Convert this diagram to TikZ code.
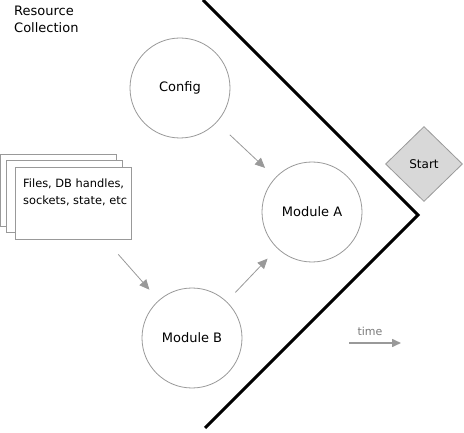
\documentclass[tikz,border=0pt]{standalone}
\usepackage{fontspec}
\setmainfont{DejaVu Sans}
\usetikzlibrary{shapes.geometric,arrows.meta}
\definecolor{edgegray}{HTML}{999999}
\definecolor{startgray}{HTML}{D8D8D8}
\begin{document}
\begin{tikzpicture}[x=1pt,y=1pt,
  stage/.style={circle,draw=edgegray,line width=0.8pt,minimum size=100pt,inner sep=0pt,font=\fontsize{13}{16}\selectfont},
  sheet/.style={rectangle,draw=edgegray,line width=0.8pt,fill=white,minimum width=116pt,minimum height=72pt,inner sep=0pt},
  flow/.style={draw=edgegray,line width=0.8pt,-{Triangle[length=10pt,width=9pt]}}]
\useasboundingbox (0,0) rectangle (464,-433);
   \node[anchor=north west,inner sep=0pt,align=left,font=\fontsize{13}{17}\selectfont] at (14,-6) (title) {Resource\\Collection};
   \coordinate (top) at (203,0);
   \coordinate (tip) at (418,-215);
   \coordinate (bottom) at (205,-428);
   \draw[line width=3pt,miter limit=4] (top) -- (tip) -- (bottom);
   \node[sheet] at (58.5,-190) (sheetback) {};
   \node[sheet] at (64.5,-196) (sheetmid) {};
   \node[sheet] at (73,-203) (items) {};
   \node[anchor=north west,inner sep=0pt,align=left,font=\fontsize{11.4}{17}\selectfont] at (23,-179) (itemstext) {Files, DB handles,\\sockets, state, etc};
   \node[stage] at (180,-88)  (config) {Config};
   \node[stage] at (312,-212) (modA) {Module A};
   \node[stage] at (192,-338) (modB) {Module B};
   \node[diamond,draw=edgegray,fill=startgray,line width=0.8pt,minimum width=77pt,minimum height=75pt,inner sep=0pt,font=\fontsize{12}{15}\selectfont] at (424,-164) (start) {Start};
   \draw[flow,shorten <=18pt,shorten >=14pt] (config) -- (modA);
   \draw[flow,shorten <=12.5pt,shorten >=14pt] (modB) -- (modA);
   \draw[flow,shorten <=20pt,shorten >=14pt] (items) -- (modB);
   \coordinate (t0) at (349,-343);
   \coordinate (t1) at (401,-343);
   \draw[draw=edgegray,line width=1.6pt,-{Triangle[length=9pt,width=8pt]}] (t0) -- (t1);
   \node[anchor=base,text=edgegray!80!black,font=\fontsize{11}{13}\selectfont] at (370,-335) (time) {time};
\end{tikzpicture}
\end{document}
